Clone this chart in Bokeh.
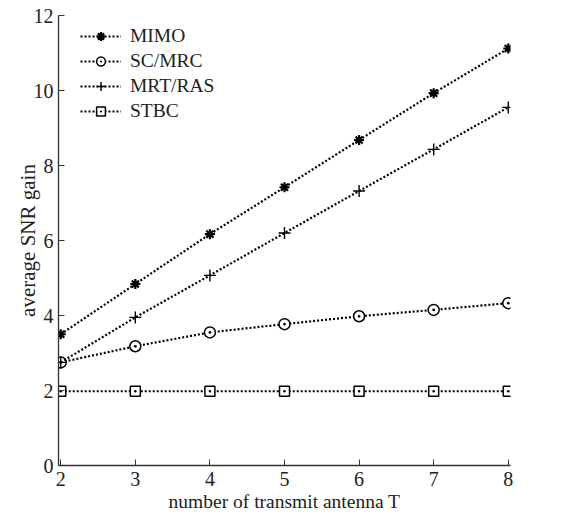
from bokeh.plotting import figure
from bokeh.models import Range1d, Legend, LegendItem, FixedTicker, Title
from bokeh.embed import file_html
from bokeh.resources import INLINE

T = [2, 3, 4, 5, 6, 7, 8]
mimo = [3.50, 4.84, 6.17, 7.42, 8.68, 9.93, 11.12]
sc_mrc = [2.75, 3.18, 3.55, 3.77, 3.98, 4.15, 4.33]
mrt_ras = [2.75, 3.95, 5.07, 6.20, 7.32, 8.43, 9.55]
stbc = [1.98, 1.98, 1.98, 1.98, 1.98, 1.98, 1.98]

x_ticks = [2, 3, 4, 5, 6, 7, 8]
y_ticks = [0, 2, 4, 6, 8, 10, 12]

FONT = "Liberation Serif"
FW, FH = 452, 450

p = figure(frame_width=FW, frame_height=FH, output_backend="svg", toolbar_location=None,
           x_range=Range1d(1.97, 8.03), y_range=Range1d(0, 12),
           min_border_left=58, min_border_top=15, min_border_right=50, min_border_bottom=46)
p.outline_line_color = None
p.grid.visible = False
p.background_fill_color = "white"

for ax, ticks in ((p.xaxis[0], x_ticks), (p.yaxis[0], y_ticks)):
    ax.ticker = FixedTicker(ticks=ticks)
    ax.major_tick_in = 6
    ax.major_tick_out = 0
    ax.minor_tick_line_color = None
    ax.axis_line_color = "#333333"
    ax.major_tick_line_color = "#333333"
    ax.axis_line_width = 1.3
    ax.major_label_text_font = FONT
    ax.major_label_text_font_size = "20px"
    ax.major_label_text_color = "#222222"
    ax.axis_label_text_font = FONT
    ax.axis_label_text_font_style = "normal"
    ax.axis_label_text_color = "#222222"

p.xaxis.major_label_standoff = 6
p.yaxis.major_label_standoff = 5
p.yaxis.axis_label = "average SNR gain"
p.yaxis.axis_label_text_font_size = "21px"
p.yaxis.axis_label_standoff = -9

xlabel = Title(text="number of transmit antenna T", align="center", offset=-13, standoff=0,
               text_font=FONT, text_font_size="19.5px", text_font_style="normal",
               text_color="#222222")
p.add_layout(xlabel, "below")

dash = "2 2"
lw = 2.2
items = []

r1 = p.line(T, mimo, line_color="black", line_width=lw, line_dash=dash)
m1 = p.scatter(T, mimo, marker="asterisk", size=10, line_color="black", line_width=2.2)
items.append(LegendItem(label="MIMO", renderers=[r1, m1]))

r2 = p.line(T, sc_mrc, line_color="black", line_width=lw, line_dash=dash)
m2 = p.scatter(T, sc_mrc, marker="circle_dot", size=11, line_color="black", fill_color="white", line_width=1.5)
items.append(LegendItem(label="SC/MRC", renderers=[r2, m2]))

r3 = p.line(T, mrt_ras, line_color="black", line_width=lw, line_dash=dash)
m3 = p.scatter(T, mrt_ras, marker="cross", size=12, line_color="black", line_width=1.4)
items.append(LegendItem(label="MRT/RAS", renderers=[r3, m3]))

r4 = p.line(T, stbc, line_color="black", line_width=lw, line_dash=dash)
m4 = p.scatter(T, stbc, marker="square_dot", size=10, line_color="black", fill_color="white", line_width=1.5)
items.append(LegendItem(label="STBC", renderers=[r4, m4]))

legend = Legend(items=items, location=(22, FH - 2 - 105))
legend.border_line_color = None
legend.background_fill_alpha = 0
legend.label_text_font = FONT
legend.label_text_font_size = "19.5px"
legend.label_text_color = "#222222"
legend.glyph_width = 41
legend.glyph_height = 22
legend.label_height = 22
legend.spacing = 3
legend.padding = 4
legend.margin = 0
legend.label_standoff = 9
p.add_layout(legend)

open("out.html", "w").write(file_html(p, INLINE))
